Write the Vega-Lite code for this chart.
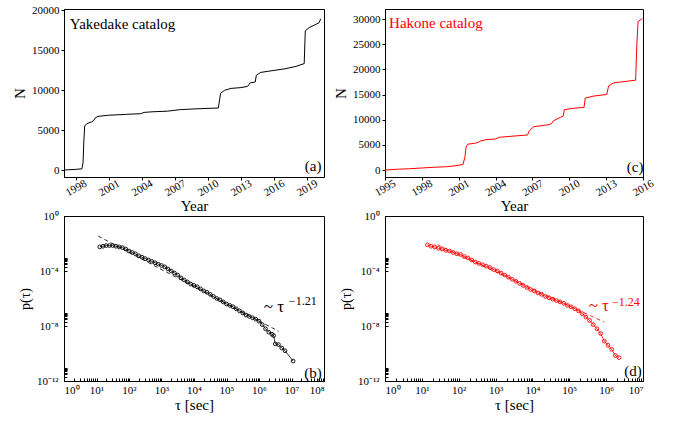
{
  "$schema": "https://vega.github.io/schema/vega-lite/v6.json",
  "padding": {"left": 12, "top": 3, "right": 5, "bottom": 3},
  "bounds": "flush",
  "columns": 2,
  "spacing": {"row": 39, "column": 61},
  "config": {
    "font": "Liberation Serif",
    "view": {"stroke": "black", "strokeWidth": 1},
    "axis": {"grid": false, "domainColor": "black", "tickColor": "black", "labelColor": "black", "titleColor": "black", "labelFont": "Liberation Serif", "titleFont": "Liberation Serif", "labelFontSize": 11, "titleFontSize": 15, "titleFontWeight": "normal", "labelOverlap": false, "tickCount": 100}
  },
  "datasets": {
    "yake": [
      {"year": 1996.95, "N": 0}, {"year": 1998.0, "N": 80}, {"year": 1998.55, "N": 150}, {"year": 1998.65, "N": 900},
      {"year": 1998.72, "N": 3500}, {"year": 1998.8, "N": 5500}, {"year": 1999.0, "N": 5800}, {"year": 1999.4, "N": 6000},
      {"year": 1999.6, "N": 6150}, {"year": 1999.75, "N": 6500}, {"year": 2000.0, "N": 6700}, {"year": 2001.0, "N": 6850},
      {"year": 2002.5, "N": 6950}, {"year": 2003.9, "N": 7040}, {"year": 2004.2, "N": 7200}, {"year": 2005.0, "N": 7280},
      {"year": 2006.3, "N": 7350}, {"year": 2007.5, "N": 7550}, {"year": 2009.0, "N": 7650}, {"year": 2010.95, "N": 7750},
      {"year": 2011.15, "N": 9600}, {"year": 2011.5, "N": 9950}, {"year": 2012.1, "N": 10200}, {"year": 2013.0, "N": 10300},
      {"year": 2013.6, "N": 10450}, {"year": 2013.85, "N": 10900}, {"year": 2014.3, "N": 11000}, {"year": 2014.4, "N": 11850},
      {"year": 2014.8, "N": 12200}, {"year": 2016.0, "N": 12450}, {"year": 2017.0, "N": 12650}, {"year": 2018.0, "N": 12950},
      {"year": 2018.75, "N": 13300}, {"year": 2018.85, "N": 17400}, {"year": 2019.2, "N": 17800}, {"year": 2019.8, "N": 18200},
      {"year": 2020.1, "N": 18400}, {"year": 2020.25, "N": 18900}
    ],
    "hakone": [
      {"year": 1995.0, "N": 0}, {"year": 1996.0, "N": 150}, {"year": 1997.0, "N": 250}, {"year": 1998.0, "N": 400},
      {"year": 1999.0, "N": 550}, {"year": 2000.0, "N": 650}, {"year": 2000.6, "N": 800}, {"year": 2001.35, "N": 1100},
      {"year": 2001.5, "N": 2500}, {"year": 2001.6, "N": 4600}, {"year": 2001.75, "N": 5150}, {"year": 2002.3, "N": 5300},
      {"year": 2002.6, "N": 5500}, {"year": 2002.8, "N": 5800}, {"year": 2003.3, "N": 6050}, {"year": 2004.0, "N": 6150},
      {"year": 2004.3, "N": 6500}, {"year": 2005.5, "N": 6750}, {"year": 2006.6, "N": 6950}, {"year": 2006.75, "N": 7800},
      {"year": 2007.1, "N": 8600}, {"year": 2008.3, "N": 9000}, {"year": 2008.55, "N": 9200}, {"year": 2008.7, "N": 9750},
      {"year": 2009.3, "N": 10500}, {"year": 2009.5, "N": 10700}, {"year": 2009.6, "N": 12000}, {"year": 2010.5, "N": 12300},
      {"year": 2011.2, "N": 12450}, {"year": 2011.3, "N": 14300}, {"year": 2012.0, "N": 14700}, {"year": 2013.05, "N": 15000},
      {"year": 2013.2, "N": 16700}, {"year": 2013.6, "N": 17300}, {"year": 2015.4, "N": 17850}, {"year": 2015.5, "N": 25000},
      {"year": 2015.6, "N": 29500}, {"year": 2015.95, "N": 30100}
    ],
    "pb": [
      {"tau": 12.59, "p": 5.623e-3}, {"tau": 15.85, "p": 6.310e-3}, {"tau": 19.95, "p": 7.079e-3}, {"tau": 25.12, "p": 7.079e-3},
      {"tau": 31.62, "p": 7.079e-3}, {"tau": 39.81, "p": 6.310e-3}, {"tau": 50.12, "p": 5.623e-3}, {"tau": 63.10, "p": 5.012e-3},
      {"tau": 79.43, "p": 3.981e-3}, {"tau": 100, "p": 2.818e-3}, {"tau": 125.9, "p": 2.239e-3}, {"tau": 158.5, "p": 1.778e-3},
      {"tau": 199.5, "p": 1.259e-3}, {"tau": 251.2, "p": 1.0e-3}, {"tau": 316.2, "p": 7.943e-4}, {"tau": 398.1, "p": 6.310e-4},
      {"tau": 501.2, "p": 5.012e-4}, {"tau": 631.0, "p": 3.981e-4}, {"tau": 794.3, "p": 3.162e-4}, {"tau": 1000, "p": 2.512e-4},
      {"tau": 1259, "p": 1.995e-4}, {"tau": 1585, "p": 1.413e-4}, {"tau": 1995, "p": 1.0e-4}, {"tau": 2512, "p": 7.079e-5},
      {"tau": 3162, "p": 5.012e-5}, {"tau": 3981, "p": 3.162e-5}, {"tau": 5012, "p": 2.239e-5}, {"tau": 6310, "p": 1.585e-5},
      {"tau": 7943, "p": 1.122e-5}, {"tau": 10000, "p": 8.913e-6}, {"tau": 12590, "p": 7.079e-6}, {"tau": 15850, "p": 5.012e-6},
      {"tau": 19950, "p": 3.548e-6}, {"tau": 25120, "p": 2.818e-6}, {"tau": 31620, "p": 1.995e-6}, {"tau": 39810, "p": 1.413e-6},
      {"tau": 50120, "p": 1.0e-6}, {"tau": 63100, "p": 7.943e-7}, {"tau": 79430, "p": 5.623e-7}, {"tau": 100000, "p": 3.981e-7},
      {"tau": 125900, "p": 3.162e-7}, {"tau": 158500, "p": 2.512e-7}, {"tau": 199500, "p": 1.778e-7}, {"tau": 251200, "p": 1.259e-7},
      {"tau": 316200, "p": 8.913e-8}, {"tau": 398100, "p": 6.310e-8}, {"tau": 501200, "p": 5.012e-8}, {"tau": 631000, "p": 3.981e-8},
      {"tau": 794300, "p": 3.162e-8}, {"tau": 1000000, "p": 2.239e-8}, {"tau": 1259000, "p": 1.259e-8}, {"tau": 1585000, "p": 6.310e-9},
      {"tau": 1995000, "p": 3.548e-9}, {"tau": 2512000, "p": 2.512e-9}, {"tau": 2818000, "p": 1.995e-9}, {"tau": 3162000, "p": 5.012e-10},
      {"tau": 3981000, "p": 4.467e-10}, {"tau": 5012000, "p": 2.512e-10}, {"tau": 6310000, "p": 1.585e-10}, {"tau": 11220000, "p": 2.818e-11}
    ],
    "pd": [
      {"tau": 14.13, "p": 7.943e-3}, {"tau": 17.78, "p": 6.310e-3}, {"tau": 22.39, "p": 5.623e-3}, {"tau": 28.18, "p": 4.467e-3},
      {"tau": 35.48, "p": 3.981e-3}, {"tau": 44.67, "p": 3.162e-3}, {"tau": 56.23, "p": 2.818e-3}, {"tau": 70.79, "p": 2.239e-3},
      {"tau": 89.13, "p": 1.778e-3}, {"tau": 112.2, "p": 1.585e-3}, {"tau": 141.3, "p": 1.122e-3}, {"tau": 177.8, "p": 8.913e-4},
      {"tau": 223.9, "p": 6.310e-4}, {"tau": 281.8, "p": 4.467e-4}, {"tau": 354.8, "p": 3.548e-4}, {"tau": 446.7, "p": 2.818e-4},
      {"tau": 562.3, "p": 2.239e-4}, {"tau": 707.9, "p": 1.778e-4}, {"tau": 891.3, "p": 1.259e-4}, {"tau": 1122, "p": 1.0e-4},
      {"tau": 1413, "p": 7.079e-5}, {"tau": 1778, "p": 5.012e-5}, {"tau": 2239, "p": 3.548e-5}, {"tau": 2818, "p": 2.512e-5},
      {"tau": 3548, "p": 1.778e-5}, {"tau": 4467, "p": 1.259e-5}, {"tau": 5623, "p": 8.913e-6}, {"tau": 7079, "p": 6.310e-6},
      {"tau": 8913, "p": 4.467e-6}, {"tau": 11220, "p": 3.548e-6}, {"tau": 14130, "p": 2.512e-6}, {"tau": 17780, "p": 1.995e-6},
      {"tau": 22390, "p": 1.413e-6}, {"tau": 28180, "p": 1.122e-6}, {"tau": 35480, "p": 8.913e-7}, {"tau": 44670, "p": 7.079e-7},
      {"tau": 56230, "p": 5.623e-7}, {"tau": 70790, "p": 4.467e-7}, {"tau": 89130, "p": 3.162e-7}, {"tau": 112200, "p": 2.512e-7},
      {"tau": 141300, "p": 1.778e-7}, {"tau": 177800, "p": 1.259e-7}, {"tau": 223900, "p": 7.943e-8}, {"tau": 281800, "p": 4.467e-8},
      {"tau": 354800, "p": 2.512e-8}, {"tau": 446700, "p": 1.259e-8}, {"tau": 562300, "p": 6.310e-9}, {"tau": 707900, "p": 2.818e-9},
      {"tau": 891300, "p": 7.943e-10}, {"tau": 1122000, "p": 3.981e-10}, {"tau": 1413000, "p": 1.995e-10}, {"tau": 1778000, "p": 7.079e-11},
      {"tau": 2239000, "p": 5.012e-11}
    ]
  },
  "concat": [
    {
      "width": 260, "height": 168,
      "layer": [
        {
          "data": {"name": "yake"},
          "mark": {"type": "line", "color": "black", "strokeWidth": 1},
          "encoding": {
            "x": {"field": "year", "type": "quantitative", "scale": {"domain": [1996.92, 2020.55], "nice": false, "zero": false},
                  "axis": {"values": [1998, 2001, 2004, 2007, 2010, 2013, 2016, 2019], "tickCount": 100, "format": "d", "labelAngle": -30, "labelAlign": "center", "labelBaseline": "middle", "labelOverlap": false, "tickSize": 3, "labelPadding": 8, "title": "Year", "titlePadding": 1}},
            "y": {"field": "N", "type": "quantitative", "scale": {"domain": [-875, 20125], "nice": false, "zero": false},
                  "axis": {"values": [0, 5000, 10000, 15000, 20000], "tickCount": 100, "format": "d", "labelOverlap": false, "tickSize": 3, "labelPadding": 2, "title": "N", "titlePadding": 4}}
          }
        },
        {
          "data": {"values": [{"year": 1997.45, "N": 18190, "label": "Yakedake catalog"}]},
          "mark": {"type": "text", "align": "left", "baseline": "middle", "fontSize": 15, "font": "Liberation Serif", "color": "black"},
          "encoding": {"x": {"field": "year", "type": "quantitative"}, "y": {"field": "N", "type": "quantitative"}, "text": {"field": "label"}}
        },
        {
          "data": {"values": [{"year": 2019.56, "N": 500, "label": "(a)"}]},
          "mark": {"type": "text", "align": "center", "baseline": "middle", "fontSize": 15, "font": "Liberation Serif", "color": "black"},
          "encoding": {"x": {"field": "year", "type": "quantitative"}, "y": {"field": "N", "type": "quantitative"}, "text": {"field": "label"}}
        }
      ]
    },
    {
      "width": 258, "height": 168,
      "layer": [
        {
          "data": {"name": "hakone"},
          "mark": {"type": "line", "color": "#ff0000", "strokeWidth": 1},
          "encoding": {
            "x": {"field": "year", "type": "quantitative", "scale": {"domain": [1995, 2016], "nice": false, "zero": false},
                  "axis": {"values": [1995, 1998, 2001, 2004, 2007, 2010, 2013, 2016], "tickCount": 100, "format": "d", "labelAngle": -30, "labelAlign": "center", "labelBaseline": "middle", "labelOverlap": false, "tickSize": 3, "labelPadding": 8, "title": "Year", "titlePadding": 1}},
            "y": {"field": "N", "type": "quantitative", "scale": {"domain": [-1390, 31990], "nice": false, "zero": false},
                  "axis": {"values": [0, 5000, 10000, 15000, 20000, 25000, 30000], "tickCount": 100, "format": "d", "labelOverlap": false, "tickSize": 3, "labelPadding": 2, "title": "N", "titlePadding": 4}}
          }
        },
        {
          "data": {"values": [{"year": 1995.33, "N": 29300, "label": "Hakone catalog"}]},
          "mark": {"type": "text", "align": "left", "baseline": "middle", "fontSize": 15, "font": "Liberation Serif", "color": "#ff0000"},
          "encoding": {"x": {"field": "year", "type": "quantitative"}, "y": {"field": "N", "type": "quantitative"}, "text": {"field": "label"}}
        },
        {
          "data": {"values": [{"year": 2015.36, "N": 600, "label": "(c)"}]},
          "mark": {"type": "text", "align": "center", "baseline": "middle", "fontSize": 15, "font": "Liberation Serif", "color": "black"},
          "encoding": {"x": {"field": "year", "type": "quantitative"}, "y": {"field": "N", "type": "quantitative"}, "text": {"field": "label"}}
        }
      ]
    },
    {
      "width": 260, "height": 165,
      "layer": [
        {
          "data": {"name": "pb"},
          "mark": {"type": "line", "color": "black", "strokeWidth": 0.8, "point": {"filled": false, "size": 14, "strokeWidth": 0.9, "color": "black"}},
          "encoding": {
            "x": {"field": "tau", "type": "quantitative", "scale": {"type": "log", "domain": [1, 100000000], "nice": false},
                  "axis": {"values": [1,2,3,4,5,6,7,8,9,10,20,30,40,50,60,70,80,90,100,200,300,400,500,600,700,800,900,1000,2000,3000,4000,5000,6000,7000,8000,9000,10000,20000,30000,40000,50000,60000,70000,80000,90000,100000,200000,300000,400000,500000,600000,700000,800000,900000,1000000,2000000,3000000,4000000,5000000,6000000,7000000,8000000,9000000,10000000,20000000,30000000,40000000,50000000,60000000,70000000,80000000,90000000,100000000],
                           "tickCount": 100,
                           "labelExpr": "abs(log(datum.value)/LN10 - round(log(datum.value)/LN10)) < 0.001 ? '10' + replace(replace(replace(replace(replace(replace(replace(replace(replace(replace(replace('' + round(log(datum.value)/LN10), '-', '⁻'), '0', '⁰'), '1', '¹'), '2', '²'), '3', '³'), '4', '⁴'), '5', '⁵'), '6', '⁶'), '7', '⁷'), '8', '⁸'), '9', '⁹') : ''",
                           "labelOverlap": false, "tickSize": -3, "labelPadding": 6, "title": "τ [sec]", "titlePadding": 2}},
            "y": {"field": "p", "type": "quantitative", "scale": {"type": "log", "domain": [1e-12, 1], "nice": false},
                  "axis": {"values": [1e-12,2e-12,3e-12,4e-12,5e-12,6e-12,7e-12,8e-12,9e-12,1e-8,2e-8,3e-8,4e-8,5e-8,6e-8,7e-8,8e-8,9e-8,1e-4,2e-4,3e-4,4e-4,5e-4,6e-4,7e-4,8e-4,9e-4,1],
                           "tickCount": 100,
                           "labelExpr": "abs(log(datum.value)/LN10 - round(log(datum.value)/LN10)) < 0.001 ? '10' + replace(replace(replace(replace(replace(replace(replace(replace(replace(replace(replace('' + round(log(datum.value)/LN10), '-', '⁻'), '0', '⁰'), '1', '¹'), '2', '²'), '3', '³'), '4', '⁴'), '5', '⁵'), '6', '⁶'), '7', '⁷'), '8', '⁸'), '9', '⁹') : ''",
                           "labelOverlap": false, "tickSize": -3, "labelPadding": 9, "title": "p(τ)", "titlePadding": 4, "titleFontSize": 14}}
          }
        },
        {
          "data": {"values": [{"tau": 11.22, "p": 0.03467}, {"tau": 4070000, "p": 4.07e-9}]},
          "mark": {"type": "line", "color": "black", "strokeWidth": 0.8, "strokeDash": [4, 3]},
          "encoding": {"x": {"field": "tau", "type": "quantitative"}, "y": {"field": "p", "type": "quantitative"}}
        },
        {
          "data": {"values": [{"tau": 2880000, "p": 2.29e-7, "label": "~ τ"}]},
          "mark": {"type": "text", "align": "center", "baseline": "middle", "fontSize": 17, "font": "Liberation Serif", "color": "black"},
          "encoding": {"x": {"field": "tau", "type": "quantitative"}, "y": {"field": "p", "type": "quantitative"}, "text": {"field": "label"}}
        },
        {
          "data": {"values": [{"tau": 8300000, "p": 6.3e-7, "label": "−1.21"}]},
          "mark": {"type": "text", "align": "left", "baseline": "middle", "fontSize": 12, "font": "Liberation Serif", "color": "black"},
          "encoding": {"x": {"field": "tau", "type": "quantitative"}, "y": {"field": "p", "type": "quantitative"}, "text": {"field": "label"}}
        },
        {
          "data": {"values": [{"tau": 45700000, "p": 4.07e-12, "label": "(b)"}]},
          "mark": {"type": "text", "align": "center", "baseline": "middle", "fontSize": 15, "font": "Liberation Serif", "color": "black"},
          "encoding": {"x": {"field": "tau", "type": "quantitative"}, "y": {"field": "p", "type": "quantitative"}, "text": {"field": "label"}}
        }
      ]
    },
    {
      "width": 258, "height": 165,
      "layer": [
        {
          "data": {"name": "pd"},
          "mark": {"type": "line", "color": "#ff0000", "strokeWidth": 0.8, "point": {"filled": false, "size": 14, "strokeWidth": 0.9, "color": "#ff0000"}},
          "encoding": {
            "x": {"field": "tau", "type": "quantitative", "scale": {"type": "log", "domain": [1, 10000000], "nice": false},
                  "axis": {"values": [1,2,3,4,5,6,7,8,9,10,20,30,40,50,60,70,80,90,100,200,300,400,500,600,700,800,900,1000,2000,3000,4000,5000,6000,7000,8000,9000,10000,20000,30000,40000,50000,60000,70000,80000,90000,100000,200000,300000,400000,500000,600000,700000,800000,900000,1000000,2000000,3000000,4000000,5000000,6000000,7000000,8000000,9000000,10000000],
                           "tickCount": 100,
                           "labelExpr": "abs(log(datum.value)/LN10 - round(log(datum.value)/LN10)) < 0.001 ? '10' + replace(replace(replace(replace(replace(replace(replace(replace(replace(replace(replace('' + round(log(datum.value)/LN10), '-', '⁻'), '0', '⁰'), '1', '¹'), '2', '²'), '3', '³'), '4', '⁴'), '5', '⁵'), '6', '⁶'), '7', '⁷'), '8', '⁸'), '9', '⁹') : ''",
                           "labelOverlap": false, "tickSize": -3, "labelPadding": 6, "title": "τ [sec]", "titlePadding": 2}},
            "y": {"field": "p", "type": "quantitative", "scale": {"type": "log", "domain": [1e-12, 1], "nice": false},
                  "axis": {"values": [1e-12,2e-12,3e-12,4e-12,5e-12,6e-12,7e-12,8e-12,9e-12,1e-8,2e-8,3e-8,4e-8,5e-8,6e-8,7e-8,8e-8,9e-8,1e-4,2e-4,3e-4,4e-4,5e-4,6e-4,7e-4,8e-4,9e-4,1],
                           "tickCount": 100,
                           "labelExpr": "abs(log(datum.value)/LN10 - round(log(datum.value)/LN10)) < 0.001 ? '10' + replace(replace(replace(replace(replace(replace(replace(replace(replace(replace(replace('' + round(log(datum.value)/LN10), '-', '⁻'), '0', '⁰'), '1', '¹'), '2', '²'), '3', '³'), '4', '⁴'), '5', '⁵'), '6', '⁶'), '7', '⁷'), '8', '⁸'), '9', '⁹') : ''",
                           "labelOverlap": false, "tickSize": -3, "labelPadding": 9, "title": "p(τ)", "titlePadding": 4, "titleFontSize": 14}}
          }
        },
        {
          "data": {"values": [{"tau": 26.9, "p": 7.94e-3}, {"tau": 891300, "p": 1.905e-8}]},
          "mark": {"type": "line", "color": "#ff0000", "strokeWidth": 0.8, "strokeDash": [4, 3]},
          "encoding": {"x": {"field": "tau", "type": "quantitative"}, "y": {"field": "p", "type": "quantitative"}}
        },
        {
          "data": {"values": [{"tau": 631000, "p": 2.63e-7, "label": "~ τ"}]},
          "mark": {"type": "text", "align": "center", "baseline": "middle", "fontSize": 17, "font": "Liberation Serif", "color": "#ff0000"},
          "encoding": {"x": {"field": "tau", "type": "quantitative"}, "y": {"field": "p", "type": "quantitative"}, "text": {"field": "label"}}
        },
        {
          "data": {"values": [{"tau": 1445000, "p": 6.0e-7, "label": "−1.24"}]},
          "mark": {"type": "text", "align": "left", "baseline": "middle", "fontSize": 12, "font": "Liberation Serif", "color": "#ff0000"},
          "encoding": {"x": {"field": "tau", "type": "quantitative"}, "y": {"field": "p", "type": "quantitative"}, "text": {"field": "label"}}
        },
        {
          "data": {"values": [{"tau": 5370000, "p": 5.25e-12, "label": "(d)"}]},
          "mark": {"type": "text", "align": "center", "baseline": "middle", "fontSize": 15, "font": "Liberation Serif", "color": "black"},
          "encoding": {"x": {"field": "tau", "type": "quantitative"}, "y": {"field": "p", "type": "quantitative"}, "text": {"field": "label"}}
        }
      ]
    }
  ]
}
